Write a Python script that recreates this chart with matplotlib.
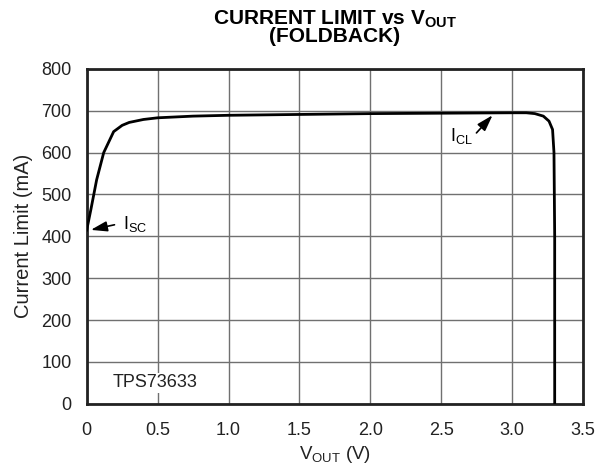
import matplotlib
matplotlib.use("Agg")
import matplotlib.pyplot as plt

plt.rcParams['font.family'] = ['Liberation Sans', 'DejaVu Sans']
plt.rcParams['mathtext.fontset'] = 'custom'
plt.rcParams['mathtext.rm'] = 'Liberation Sans'
plt.rcParams['mathtext.bf'] = 'Liberation Sans:bold'

# values
vout = [0.0, 0.03, 0.07, 0.12, 0.19, 0.25, 0.3, 0.4, 0.5, 0.75, 1.0, 1.5, 2.0,
        2.5, 3.0, 3.1, 3.16, 3.22, 3.26, 3.285, 3.295, 3.3, 3.3]
ilim = [415, 465, 535, 600, 650, 665, 672, 679, 683, 687, 689, 691, 693,
        694, 695, 695, 693, 687, 675, 655, 600, 400, 0]

xticks = [0, 0.5, 1.0, 1.5, 2.0, 2.5, 3.0, 3.5]
xticklabels = ["0", "0.5", "1.0", "1.5", "2.0", "2.5", "3.0", "3.5"]
yticks = [0, 100, 200, 300, 400, 500, 600, 700, 800]

fig = plt.figure(figsize=(5.98, 4.68), dpi=100)
ax = fig.add_axes([0.145, 0.137, 0.83, 0.716])

ax.plot(vout, ilim, color="black", lw=2.0, solid_joinstyle="round", zorder=3)

ax.set_xlim(0, 3.5)
ax.set_ylim(0, 800)
ax.set_xticks(xticks)
ax.set_xticklabels(xticklabels)
ax.set_yticks(yticks)
ax.tick_params(length=0, labelsize=13, colors="#222222")
ax.tick_params(axis="x", pad=13)
ax.tick_params(axis="y", pad=11)
ax.grid(True, color="#707070", lw=1.0)
for s in ax.spines.values():
    s.set_linewidth(2.0)
    s.set_color("#222222")

ax.set_xlabel(r"V$_\mathregular{OUT}$ (V)", fontsize=13.5, labelpad=4, color="#222222")
ax.set_ylabel("Current Limit (mA)", fontsize=14.5, labelpad=6, color="#222222")
ax.set_title("CURRENT LIMIT vs V$_\\mathbf{OUT}$\n(FOLDBACK)", fontsize=15,
             fontweight="bold", linespacing=0.85, pad=19)

arrow = dict(arrowstyle="-|>,head_length=0.7,head_width=0.22", color="black",
             lw=1.2, mutation_scale=14)
ax.annotate("", xy=(0.01, 414), xytext=(0.215, 429), arrowprops=arrow)
ax.text(0.255, 430, r"I$_\mathregular{SC}$", fontsize=13, va="center", ha="left")
ax.annotate("", xy=(2.875, 694), xytext=(2.735, 642), arrowprops=arrow)
ax.text(2.565, 640, r"I$_\mathregular{CL}$", fontsize=13, va="center", ha="left")

ax.text(0.18, 50, "TPS73633", fontsize=13, va="center", ha="left", color="#222222",
        bbox=dict(facecolor="white", edgecolor="none", pad=1))

plt.savefig("out.png", dpi=100)
